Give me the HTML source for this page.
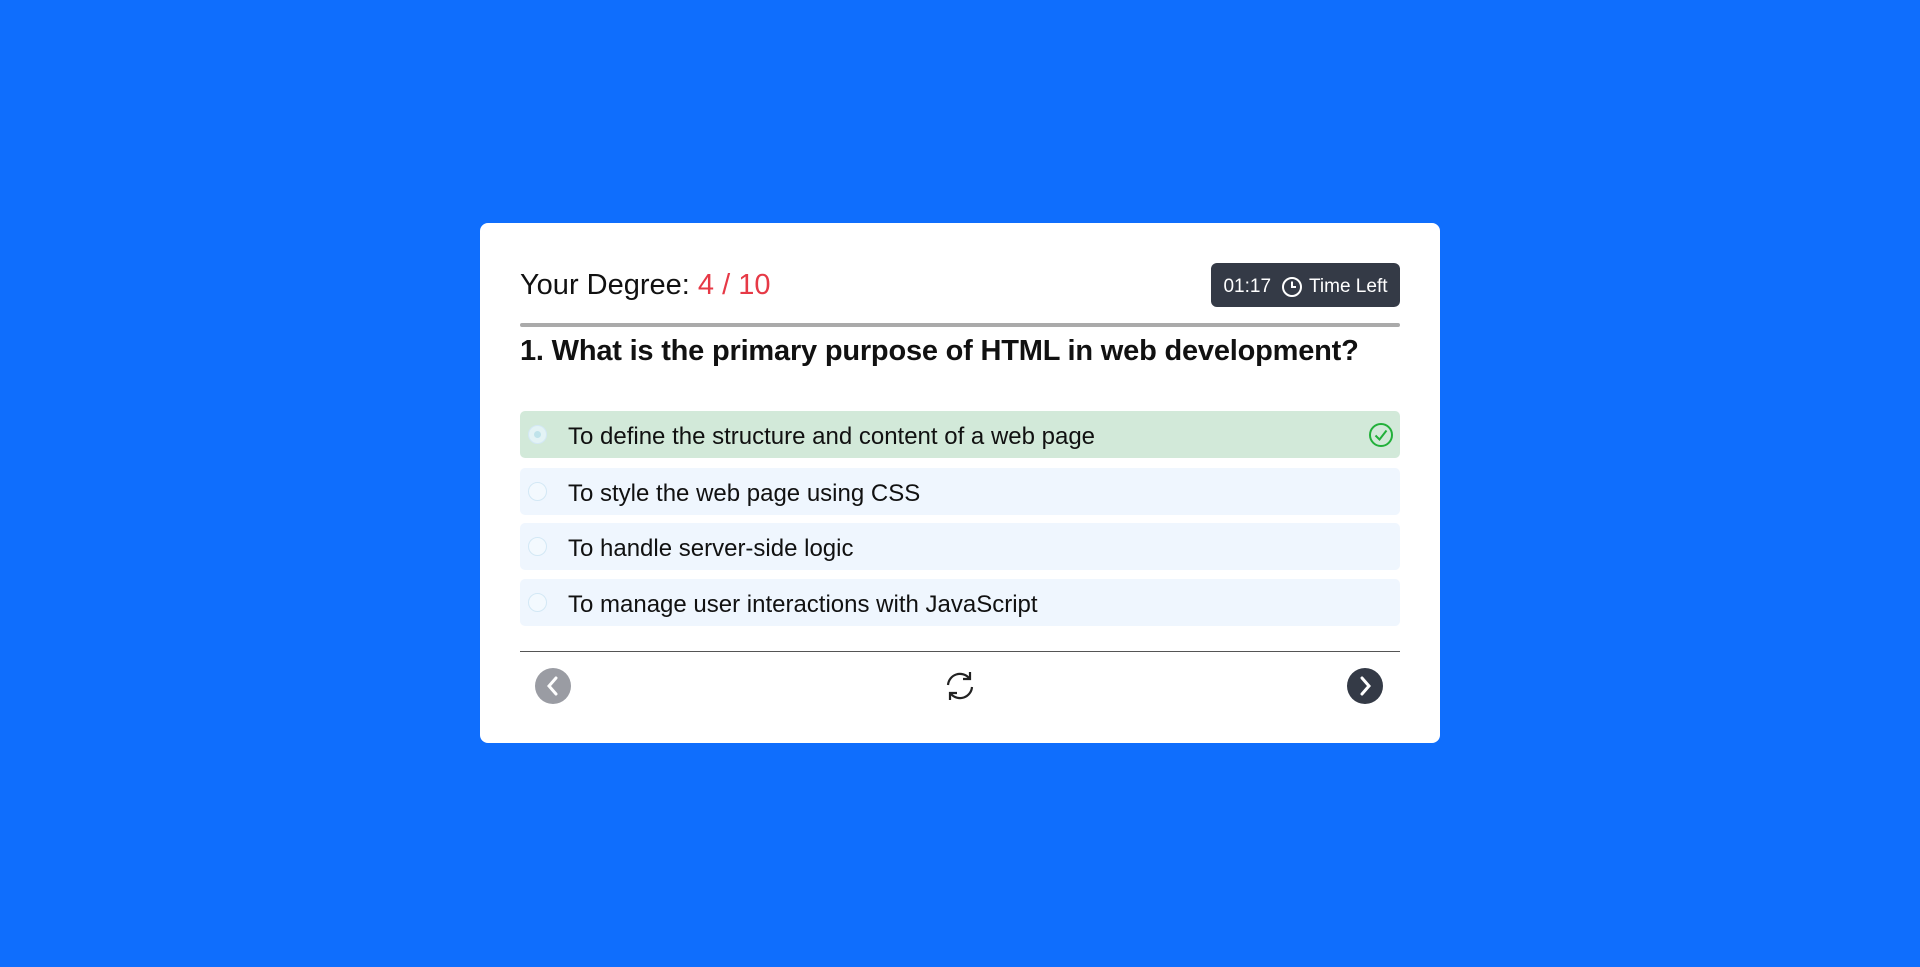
<!DOCTYPE html>
<html><head><meta charset="utf-8"><style>
*{box-sizing:border-box;margin:0;padding:0}
body{width:1920px;height:967px;background:#0f6efd;font-family:"Liberation Sans",sans-serif;position:relative;overflow:hidden}
.card{position:absolute;left:480px;top:223px;width:960px;height:520px;background:#fff;border-radius:8px}
.abs{position:absolute}
.title{left:40px;top:46px;font-size:29px;color:#111;white-space:nowrap}
.title span{color:#e63946}
.badge{left:731px;top:40px;width:189px;height:44px;background:#343a46;border-radius:6px;color:#fff;font-size:19px;display:flex;align-items:center;justify-content:center;gap:10px;padding-top:3px}
.bar{left:40px;top:100px;width:880px;height:4px;background:#aaa;border-radius:2px}
.q{left:40px;top:112px;font-size:29px;font-weight:bold;color:#111;white-space:nowrap;letter-spacing:-0.2px}
.opt{left:40px;width:880px;height:47px;background:#eff6fe;border-radius:5px;font-size:24px;color:#111;line-height:51px;padding-left:48px;white-space:nowrap}
.opt.ok{background:#d2e9d9}
.opt i{position:absolute;left:8px;top:14px;width:19px;height:19px;border-radius:50%;border:1px solid #d3e8f5;background:#f3f9fe}
.opt.ok i{background:#e3f3f5}
.opt.ok i:after{content:"";position:absolute;left:5px;top:5px;width:7px;height:7px;border-radius:50%;background:#bfe3ea}
.line{left:40px;top:428px;width:880px;height:1px;background:#555}
.circ{width:36px;height:36px;border-radius:50%;top:445px}
</style></head><body>
<div class="card">
<div class="abs title">Your Degree<b style="font-weight:normal">:</b> <span>4 / 10</span></div>
<div class="abs badge"><span>01:17</span><span style="display:flex;align-items:center;gap:6px"><svg width="22" height="22" viewBox="0 0 22 22"><circle cx="11" cy="11" r="9" fill="none" stroke="#fff" stroke-width="2"/><path d="M11 5.5V11h4" fill="none" stroke="#fff" stroke-width="2"/></svg>Time Left</span></div>
<div class="abs bar"></div>
<div class="abs q">1. What is the primary purpose of HTML in web development?</div>
<div class="abs opt ok" style="top:188px"><i></i>To define the structure and content of a web page
<svg class="abs" style="right:6px;top:11px" width="26" height="26" viewBox="0 0 26 26"><circle cx="13" cy="13" r="11" fill="none" stroke="#22b03a" stroke-width="2"/><path d="M7.5 13.5l4 4 7-9" fill="none" stroke="#22b03a" stroke-width="2"/></svg></div>
<div class="abs opt" style="top:245px"><i></i>To style the web page using CSS</div>
<div class="abs opt" style="top:300px"><i></i>To handle server-side logic</div>
<div class="abs opt" style="top:356px"><i></i>To manage user interactions with JavaScript</div>
<div class="abs line"></div>
<div class="abs circ" style="left:55px;background:#9a9ca3"><svg width="36" height="36" viewBox="0 0 36 36"><path d="M21 10l-7 8 7 8" fill="none" stroke="#fff" stroke-width="3" stroke-linecap="round"/></svg></div>
<div class="abs" style="left:462px;top:445px"><svg width="36" height="36" viewBox="0 0 36 36"><path d="M6 17a12 12 0 0 1 21-7" fill="none" stroke="#222" stroke-width="2.2"/><path d="M28 4v7h-7" fill="none" stroke="#222" stroke-width="2.2"/><path d="M30 19a12 12 0 0 1-21 7" fill="none" stroke="#222" stroke-width="2.2"/><path d="M8 32v-7h7" fill="none" stroke="#222" stroke-width="2.2"/></svg></div>
<div class="abs circ" style="left:867px;background:#343a46"><svg width="36" height="36" viewBox="0 0 36 36"><path d="M15 10l7 8-7 8" fill="none" stroke="#fff" stroke-width="3" stroke-linecap="round"/></svg></div>
</div>
</body></html>
